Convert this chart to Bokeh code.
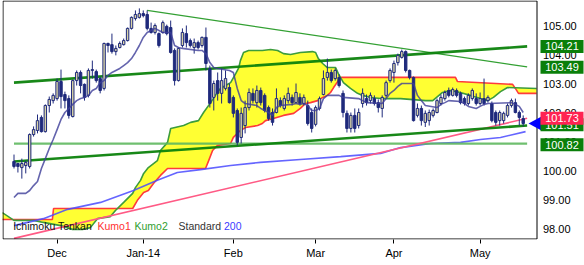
from bokeh.plotting import figure
from bokeh.models import Range1d, FixedTicker, ColumnDataSource
from bokeh.core.properties import value
from bokeh.embed import file_html
from bokeh.resources import INLINE

# ---------------- data (USD/JPY daily, bar index 0 = first candle) ----------------
opens = [100.31,100.24,100.10,100.17,100.14,101.24,101.38,101.83,101.34,102.24,
 102.41,102.48,103.07,102.62,102.48,101.86,103.10,103.38,102.97,102.59,
 103.45,103.41,103.17,102.83,104.38,104.34,104.10,104.24,104.34,104.48,
 104.90,105.24,105.28,105.41,105.38,104.90,104.76,104.72,104.76,104.97,
 104.93,104.14,103.10,104.31,104.72,104.48,104.24,104.41,104.31,104.59,
 103.52,102.52,103.10,102.66,102.83,102.86,102.52,102.07,101.14,101.55,
 102.17,102.66,102.34,102.76,102.59,102.17,102.00,102.00,102.41,102.14,
 102.41,102.52,102.34,102.52,102.31,102.24,102.00,101.59,102.14,102.62,
 103.21,103.38,103.17,103.21,102.66,101.97,101.45,101.90,101.55,102.31,
 102.48,102.41,102.48,102.34,102.14,102.59,103.10,103.38,103.72,103.90,
 104.10,103.45,103.21,101.90,102.14,101.66,101.72,101.90,102.00,102.31,
 102.48,102.76,102.59,102.76,102.66,102.48,102.31,102.48,102.48,102.31,
 102.48,102.41,102.31,102.00,101.72,101.72,101.90,102.24,102.34,102.00,
 101.79]
highs = [100.55,100.26,100.41,100.34,101.28,101.52,101.93,101.90,102.28,102.55,
 102.66,103.17,103.48,102.72,102.59,103.14,103.45,103.45,103.00,103.52,
 103.79,103.48,103.24,104.41,104.41,104.72,104.31,104.45,104.55,104.93,
 105.31,105.52,105.59,105.52,105.52,105.10,105.07,104.76,105.17,105.03,
 105.17,104.21,104.24,104.90,105.00,104.55,104.55,104.48,104.62,104.93,
 103.62,103.10,103.38,103.52,103.45,103.00,102.59,102.14,102.17,102.41,
 102.83,102.83,102.93,102.86,102.66,102.24,102.14,102.83,102.52,102.59,
 102.86,102.62,103.00,102.66,102.62,102.41,102.14,102.24,102.55,103.45,
 103.86,103.48,103.52,103.31,102.76,102.07,102.00,102.14,102.14,102.83,
 102.62,102.69,102.59,102.45,102.59,103.10,103.52,103.79,104.03,104.17,
 104.14,103.48,103.24,102.31,102.24,102.07,102.10,102.14,102.48,102.62,
 102.76,102.86,102.86,102.83,102.72,102.55,102.66,102.83,102.66,102.69,
 103.17,102.59,102.38,102.07,102.07,102.03,102.31,102.48,102.48,102.07,
 101.90]
lows = [100.07,99.93,99.72,99.90,100.07,101.17,101.28,101.31,101.31,102.00,
 102.31,102.41,102.14,102.14,101.79,101.83,102.93,102.66,102.41,102.52,
 103.17,103.03,102.66,102.76,104.07,104.03,103.97,104.21,104.31,104.45,
 104.86,105.17,105.24,105.28,104.83,104.72,104.69,104.24,104.72,104.66,
 104.03,102.93,103.07,104.24,104.24,104.24,104.03,104.17,104.24,103.45,
 102.17,102.07,102.41,102.31,102.76,102.31,101.83,100.86,100.93,101.28,
 102.07,102.31,102.17,102.24,102.00,101.72,101.55,101.97,102.17,102.07,
 102.31,102.24,102.31,102.24,102.24,101.55,101.31,101.52,102.07,102.59,
 103.10,103.03,103.10,102.86,101.83,101.31,101.31,101.31,101.45,102.17,
 102.24,102.31,102.24,102.00,101.83,102.52,103.03,103.03,103.62,103.86,
 103.38,103.14,101.69,101.83,101.55,101.50,101.55,101.83,101.97,102.24,
 102.41,102.52,102.55,102.52,102.28,102.24,102.24,102.41,102.24,102.24,
 102.24,102.34,101.66,101.55,101.55,101.62,101.83,102.17,101.97,101.55,
 101.52]
closes = [100.14,100.14,100.24,100.28,101.24,101.41,101.72,101.34,102.24,102.45,
 102.59,103.07,102.55,102.41,101.90,103.10,103.38,102.93,102.52,103.45,
 103.48,103.10,102.76,104.38,104.31,104.10,104.21,104.38,104.48,104.90,
 105.28,105.38,105.41,105.34,104.90,104.76,105.00,104.31,105.10,104.72,
 104.07,103.10,104.21,104.76,104.41,104.31,104.41,104.24,104.59,103.69,
 102.31,103.00,102.66,103.10,103.17,102.34,101.97,100.97,101.97,102.17,
 102.69,102.41,102.76,102.34,102.07,101.79,101.66,102.48,102.24,102.48,
 102.66,102.34,102.69,102.31,102.52,101.62,101.45,102.17,102.48,103.17,
 103.38,103.10,103.45,102.93,102.00,101.45,101.90,101.45,102.00,102.66,
 102.34,102.59,102.31,102.17,102.52,103.03,103.45,103.69,103.97,104.10,
 103.45,103.21,101.72,102.14,101.72,101.97,102.00,102.07,102.41,102.52,
 102.69,102.59,102.79,102.59,102.34,102.31,102.59,102.76,102.31,102.48,
 102.31,102.52,101.72,101.66,102.00,101.97,102.24,102.41,102.00,101.83,
 101.62]

tenkan_idx = [0,1,3,4,5,6,7,8,9,10,11,12,13,14,15,16,17,18,19,20,21,22,23,24,25,26,27,28,29,30,
 31,32,33,34,35,36,37,38,40,41,42,43,47,48,49,50,51,52,55,56,57,58,59,62,63,64,65,66,67,68,
 71,72,73,74,75,76,77,78,79,80,83,84,88,89,90,94,95,96,97,98,99,102,103,104,105,108,109,110,111,
 114,115,116,118,119,120,121,127,128,129,130]
tenkan_val = [99.07,99.21,99.21,99.31,99.48,99.62,100.07,100.41,100.76,101.07,101.41,101.76,102.00,102.14,102.28,
 102.41,102.48,102.52,102.59,102.76,102.83,103.03,103.10,103.28,103.38,103.45,103.52,103.62,103.72,103.86,
 104.07,104.31,104.59,104.76,104.83,104.90,104.83,104.76,104.76,104.31,104.24,104.21,104.14,104.14,104.03,
 103.72,103.55,103.52,103.45,103.38,102.83,102.41,102.31,102.24,102.14,102.07,102.00,101.90,102.17,102.24,
 102.28,102.31,102.28,102.31,102.24,102.07,102.07,102.14,102.48,102.59,102.59,102.52,102.48,102.41,102.34,
 102.31,102.48,102.66,102.76,102.90,103.00,103.00,102.59,102.41,102.24,102.17,102.28,102.34,102.41,
 102.38,102.31,102.21,102.14,102.21,102.28,102.31,102.34,102.28,102.21,102.00]

kumo1_idx = [-3,9.8,10.1,30.3,31.5,33.1,34.3,35.6,37.4,39.2,48.9,49.7,50.7,51.9,55.3,56.0,57.8,59.1,62.2,63.4,
 64.2,66.2,68.8,71.4,73.1,74.4,75.7,77.5,78.8,80.0,80.8,81.6,82.8,83.4,112.7,113.2,127.3,128.0,128.8,133.4]
kumo1_val = [98.31,98.31,98.69,98.69,98.97,99.24,99.31,99.55,99.83,100.07,100.07,100.34,100.69,100.86,100.93,
 101.14,101.38,101.48,101.55,101.62,101.72,101.79,101.90,101.97,102.14,102.31,102.34,102.41,102.52,102.59,
 102.69,102.86,103.10,103.21,103.21,103.07,102.97,102.83,102.66,102.66]

kumo2_idx = [-3,0,5.0,7.5,11.9,14.9,17.5,19.5,21.3,24.6,25.9,28.0,30.3,31.0,32.3,33.1,34.3,36.6,37.4,39.2,
 40.0,43.3,45.1,47.1,48.4,50.2,51.4,52.7,54.0,55.3,56.6,57.4,57.8,58.6,59.9,63.4,65.5,67.3,68.8,70.6,
 73.1,76.2,77.0,77.7,78.8,80.0,82.1,82.8,84.1,85.9,87.7,89.0,91.0,93.6,98.7,105.1,106.9,109.4,111.4,113.9,
 116.5,119.1,120.9,122.4,124.2,126.0,133.4]
kumo2_val = [98.55,98.28,98.28,98.21,98.10,97.97,97.97,98.03,98.34,98.41,98.62,98.90,99.21,99.41,99.66,99.90,
 100.10,100.34,100.69,100.97,101.45,101.55,101.66,101.72,102.00,102.34,102.59,102.83,102.93,103.03,103.34,
 103.55,103.79,104.07,104.14,104.14,104.17,104.14,104.03,104.00,104.07,104.10,104.07,103.86,103.69,103.55,
 103.55,103.34,103.03,102.83,102.66,102.59,102.52,102.48,102.48,102.41,102.41,102.69,102.76,102.69,102.59,
 102.48,102.41,102.52,102.72,102.86,102.83]

ma200_idx = [0,7.5,13.7,22.1,30.5,36.6,41.7,47.6,55.3,62.9,73.1,83.4,93.6,98.7,106.4,114.0,119.1,124.2,130.6]
ma200_val = [98.10,98.34,98.66,98.90,99.31,99.66,99.93,100.03,100.17,100.28,100.38,100.48,100.59,100.79,
 100.93,100.97,101.07,101.14,101.34]

# trend lines: (start index, start price, end index, end price)
upper_channel = (0, 103.03, 131, 104.28)
down_trend = (34, 105.52, 131, 103.57)
lower_channel = (0, 100.31, 131, 101.55)
support_level = (0, 100.93, 131, 100.93)
up_trend = (0, 97.66, 131, 101.80)

level_labels = ["104.21", "103.49", "101.51", "100.82", "101.73"]
level_values = [104.21, 103.49, 101.51, 100.82, 101.73]
level_colors = ["#0a7f0a", "#0a7f0a", "#0a7f0a", "#0a7f0a", "#ff2352"]

month_ticks = [11, 33, 56, 77, 97, 119]
month_labels = ["Dec", "Jan-14", "Feb", "Mar", "Apr", "May"]
price_ticks = [98, 99, 100, 101, 102, 103, 104, 105]

legend_words = ["Ichimoku Tenkan", "Kumo1", "Kumo2", "Standard", "200"]
legend_colors = ["#111111", "#ff3030", "#2f9e2f", "#333333", "#3a3aff"]

# ---------------- layout helpers (pixel -> data, only for placement) ----------------
X0, DX = 13.5, 3.917
def ix(px):
    return (px - X0) / DX
def yp(py):
    return 105.0 - (py - 25.0) / 29.0

FONT = "Liberation Sans"
NAVY = "#1f2a7c"

p = figure(width=584, height=265, x_range=Range1d(ix(2), ix(584)), y_range=Range1d(yp(239), yp(0)),
           y_axis_location=None, output_backend="svg", toolbar_location=None,
           min_border_left=2, min_border_right=0, min_border_top=0, min_border_bottom=26,
           background_fill_color="white", border_fill_color="white")
p.grid.visible = False
p.outline_line_color = None

xa = p.xaxis[0]
xa.ticker = FixedTicker(ticks=month_ticks)
xa.major_label_overrides = {t: l for t, l in zip(month_ticks, month_labels)}
xa.major_tick_out = 4
xa.major_tick_in = 0
xa.minor_tick_line_color = None
xa.axis_line_color = None
xa.major_tick_line_color = "black"
xa.major_label_standoff = 3
xa.major_label_text_font = FONT
xa.major_label_text_font_size = "11px"
xa.major_label_text_color = "black"

# cloud fill (Kumo1 forward, Kumo2 back)
p.patch(kumo1_idx + kumo2_idx[::-1], kumo1_val + kumo2_val[::-1], fill_color="#ffff33", line_color=None)
p.line(kumo1_idx, kumo1_val, line_color="#ff3b3b", line_width=1.6)
p.line(kumo2_idx, kumo2_val, line_color="#3c9c3c", line_width=1.6)

# 200 average
p.line(ma200_idx, ma200_val, line_color="#4a4aff", line_width=1.6, line_alpha=0.85)

# trend lines
def tline(t, color, width, alpha=1.0):
    p.line([t[0], t[2]], [t[1], t[3]], line_color=color, line_width=width, line_alpha=alpha)
tline(support_level, "#5fb85f", 2.2, 0.9)
tline(up_trend, "#ff5a85", 1.6)
tline(down_trend, "#33a033", 1.3)
tline(upper_channel, "#0c820c", 2.6, 0.95)
tline(lower_channel, "#0c820c", 2.6, 0.95)

# candles
idx = list(range(len(closes)))
up = [c >= o for o, c in zip(opens, closes)]
src = ColumnDataSource(dict(
    x=idx, high=highs, low=lows,
    top=[max(o, c) for o, c in zip(opens, closes)],
    bottom=[min(o, c) for o, c in zip(opens, closes)],
    fill=["#d9d4a6" if u else NAVY for u in up]))
p.segment(x0="x", y0="low", x1="x", y1="high", source=src, line_color=NAVY, line_width=1)
p.vbar(x="x", width=0.62, top="top", bottom="bottom", source=src, fill_color="fill", line_color=NAVY, line_width=1)

# tenkan
p.line(tenkan_idx, tenkan_val, line_color="#3d3d99", line_width=1.6, line_alpha=0.8)

# legend text
leg_x = [ix(12.7), ix(97), ix(134), ix(178), ix(223.5)]
p.text(x=leg_x, y=[yp(225)] * 5, text=legend_words, text_color=legend_colors,
       text_font=value(FONT), text_font_size="10.5px", text_baseline="middle", text_align="left")

# plot frame (left part of the canvas)
fx0, fx1, fy0, fy1 = ix(2.5), ix(536.5), yp(0.5), yp(238.5)
p.line([fx0, fx1, fx1, fx0, fx0], [fy0, fy0, fy1, fy1, fy0], line_color="black", line_width=1)

# price scale labels on the right
p.text(x=[ix(542.5)] * len(price_ticks), y=price_ticks, text=["%.2f" % t for t in price_ticks],
       text_color="black", text_font=value(FONT), text_font_size="11px",
       text_baseline="middle", text_align="left")

# current price marker (blue arrow)
last = closes[-1]
p.patch([ix(528), ix(541), ix(541)], [last, last + 0.24, last - 0.24], fill_color="#0000ff", line_color=None)

# price boxes
off = 2.0 / 29.0
half = 6.5 / 29.0
for lab, val, col in zip(level_labels, level_values, level_colors):
    p.quad(left=ix(540), right=ix(583), top=val + off + half, bottom=val + off - half,
           fill_color=col, line_color=None)
    p.text(x=[ix(561.5)], y=[val + off], text=[lab], text_color="white", text_font=value(FONT),
           text_font_size="11px", text_baseline="middle", text_align="center")

open("out.html", "w").write(file_html(p, INLINE))
